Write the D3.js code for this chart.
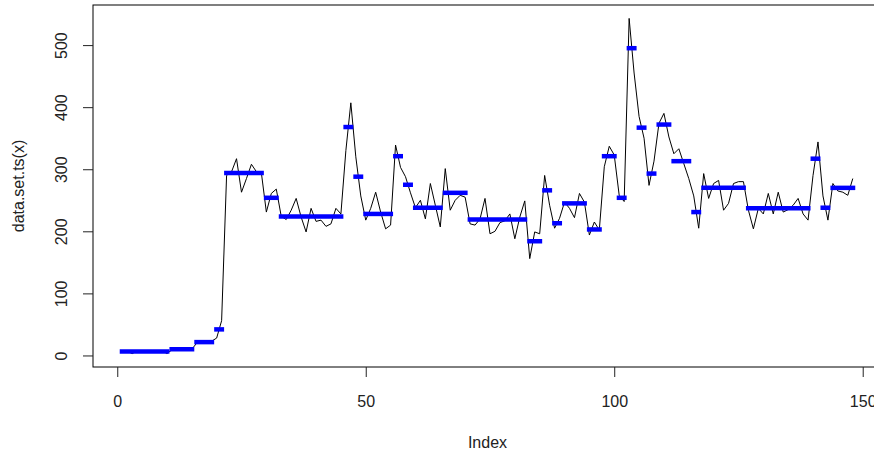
<!DOCTYPE html>
<html>
<head>
<meta charset="utf-8">
<script src="https://cdn.jsdelivr.net/npm/d3@7/dist/d3.min.js"></script>
<style>
body{margin:0;background:#fff;}
text{font-family:"Liberation Sans",Arial,sans-serif;}
</style>
</head>
<body>
<svg id="graph"></svg>
<script>
var width=874, height=456;

// series values, index 1..148
var values=[7,7,3,7,7,8,8,8,8,3,
    9,10,11,10,10,
    20,21,22,23,
    28,56,
    290,296,317,263,285,308,296,294,
    231,261,268,
    224,219,234,253,223,199,237,216,218,208,212,237,228,
    330,407,
    320,257,
    218,237,263,231,204,210,
    339,303,
    288,262,
    238,250,220,277,242,207,
    301,234,250,258,255,
    212,210,220,253,196,200,214,217,228,188,223,249,
    156,199,196,
    290,242,
    205,221,
    247,237,222,261,247,
    194,215,202,
    304,337,323,
    258,248,
    543,455,
    385,350,
    274,313,
    374,390,352,
    325,333,309,285,
    257,205,
    293,253,277,282,234,245,277,280,280,
    234,204,237,228,261,228,263,231,235,242,253,228,218,
    290,344,
    257,218,
    277,265,263,258,285];

// changepoints (last index of each segment) and segment means
var cptEnds=[10,15,19,21,29,32,45,47,49,55,57,59,65,70,82,85,87,89,94,97,100,102,104,106,108,111,115,117,126,139,141,143,148];
var segMeans=[6.5,10,21.5,42,294,254,224,368,288,228,321,275,238,262,219,184,266,213,245,203,321,254,495,367,293,372,313,231,270,237,317,238,270];

var xTicks=[0,50,100,150];
var yTicks=[0,100,200,300,400,500];

var svg=d3.select("#graph")
        .attr("width",width)
        .attr("height",height)
        .style("background","#fff");

var pLeft=93, pRight=882, pTop=5, pBottom=367;

var n=values.length;
var xpad=(n-1)*0.04;
var ext=d3.extent(values);
var ypad=(ext[1]-ext[0])*0.04;

var x=d3.scaleLinear()
        .domain([1-xpad,n+xpad])
        .range([pLeft,pRight]);
var y=d3.scaleLinear()
        .domain([ext[0]-ypad,ext[1]+ypad])
        .range([pBottom,pTop]);

var pts=values.map((v,i)=>({i:i+1,v:v}));

// black series line
svg.append("path")
   .datum(pts)
   .attr("fill","none")
   .attr("stroke","#000")
   .attr("stroke-width",1)
   .attr("d",d3.line()
               .x(d=>x(d.i))
               .y(d=>y(d.v)));

// blue segment means
var segs=cptEnds.map((e,k)=>({s:k==0?1:cptEnds[k-1]+1,e:e,m:segMeans[k]}));
svg.selectAll("line.seg")
   .data(segs)
   .join("line")
   .attr("class","seg")
   .attr("x1",d=>x(d.s-0.5))
   .attr("x2",d=>x(d.e+0.5))
   .attr("y1",d=>y(d.m))
   .attr("y2",d=>y(d.m))
   .attr("stroke","#0000ff")
   .attr("stroke-width",4.5);

// box
svg.append("rect")
   .attr("x",pLeft)
   .attr("y",pTop)
   .attr("width",pRight-pLeft)
   .attr("height",pBottom-pTop)
   .attr("fill","none")
   .attr("stroke","#000")
   .attr("stroke-width",1);

var gx=svg.append("g")
          .attr("transform","translate(0,"+pBottom+")")
          .call(d3.axisBottom(x).tickValues(xTicks).tickSize(10).tickFormat(d3.format("d")));
gx.select(".domain").remove();
gx.selectAll("line").attr("stroke","#222");
gx.selectAll("text")
  .attr("y",40)
  .attr("dy",0)
  .attr("font-size",16)
  .attr("fill","#222");

var gy=svg.append("g")
          .attr("transform","translate("+pLeft+",0)")
          .call(d3.axisLeft(y).tickValues(yTicks).tickSize(10).tickFormat(d3.format("d")));
gy.select(".domain").remove();
gy.selectAll("line").attr("stroke","#222");
gy.selectAll("text")
  .attr("x",0)
  .attr("dy",0)
  .attr("text-anchor","middle")
  .attr("transform","translate(-26,0) rotate(-90)")
  .attr("font-size",16)
  .attr("fill","#222");

svg.append("text")
   .attr("x",(pLeft+pRight)/2)
   .attr("y",448)
   .attr("text-anchor","middle")
   .attr("font-size",16)
   .attr("fill","#222")
   .text("Index");

svg.append("text")
   .attr("transform","translate(24,"+((pTop+pBottom)/2)+") rotate(-90)")
   .attr("text-anchor","middle")
   .attr("font-size",16)
   .attr("fill","#222")
   .text("data.set.ts(x)");
</script>
</body>
</html>
